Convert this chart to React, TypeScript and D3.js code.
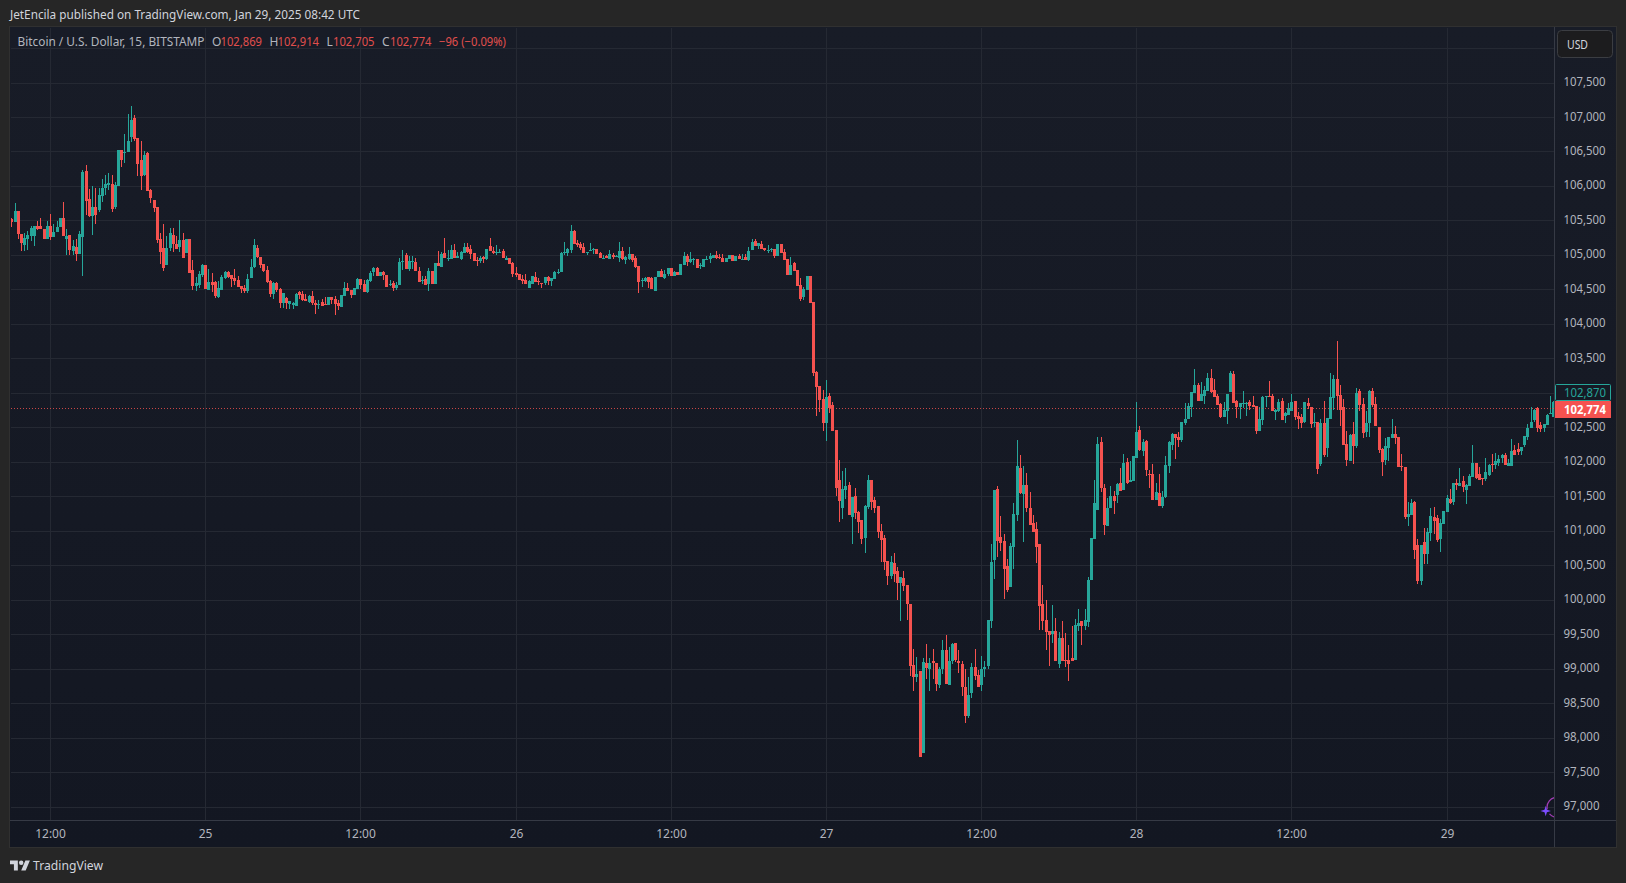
import React from "react";
import * as d3 from "d3";

type Bar = [number, number, number, number]; // open, high, low, close

const barsJan24: Bar[] = [
[105526,105550,105414,105487],[105487,105758,105487,105642],[105642,105642,105236,105308],[105318,105318,105062,105178],[105149,105323,105067,105250],[105236,105356,105076,105294],[105279,105424,105207,105395],[105279,105434,105134,105434],[105434,105501,105366,105390],[105424,105540,105381,105381],
[105390,105390,105236,105236],[105236,105501,105236,105424],[105434,105598,105221,105265],[105265,105453,105265,105337],[105337,105501,105337,105419],[105410,105540,105410,105540],[105540,105772,105279,105279],[105236,105381,105004,105284],[105294,105294,105004,105076],[105062,105221,105004,105134],
[105120,105236,104917,105018],[105018,105352,105018,105308],[105265,106236,104699,106207],[106222,106309,105584,105787],[105816,105961,105559,105569],[105569,106004,105294,105700],[105700,105985,105453,105584],[105656,105985,105627,105874],[105859,106115,105772,105985],[105975,106164,105874,106033],
[106019,106193,105946,106048],[106043,106164,105627,105671],[105700,106062,105671,106019],[106004,106526,106004,106526],[106526,106526,106280,106381],[106483,106758,106338,106497],[106497,107048,106497,106657],[106715,107164,106642,106961],[106990,107034,106657,106686],[106700,106700,106149,106323],
[106381,106657,105946,106149],[106164,106512,106149,106454],[106483,106497,105932,105932],[105946,105961,105758,105830],[105801,105801,105627,105685],[105700,105700,105178,105221],[105236,105323,104873,105047],[105105,105453,104772,104815],[104859,105279,104859,105105],[105105,105395,105062,105323],
[105294,105395,105047,105163],[105163,105279,105091,105091],[105120,105511,105047,105221],[105221,105323,104960,104960],[105033,105236,105033,105236],[105236,105236,104743,104743],[104786,104931,104496,104554],[104554,104685,104482,104598],[104569,104772,104525,104728],[104714,104873,104685,104859],
];
const barsJan25: Bar[] = [
[104859,104859,104511,104511],[104496,104801,104496,104612],[104612,104743,104467,104569],[104612,104627,104380,104409],[104395,104627,104380,104525],[104496,104714,104496,104685],[104670,104772,104656,104757],[104757,104772,104670,104685],[104714,104714,104540,104656],[104670,104801,104569,104627],
[104641,104699,104540,104540],[104554,104554,104453,104511],[104525,104569,104453,104482],[104482,104728,104453,104656],[104670,104946,104670,104830],[104830,105236,104815,105149],[105105,105149,104960,104975],[104975,104975,104815,104859],[104873,104873,104757,104772],[104786,104844,104598,104612],
[104627,104641,104395,104438],[104438,104612,104366,104598],[104598,104612,104467,104496],[104511,104525,104235,104308],[104308,104453,104235,104453],[104380,104395,104221,104308],[104293,104337,104221,104337],[104279,104322,104221,104308],[104264,104453,104264,104438],[104467,104482,104366,104424],
[104438,104482,104337,104351],[104366,104438,104337,104337],[104322,104424,104308,104409],[104409,104482,104279,104308],[104308,104351,104148,104279],[104279,104351,104221,104293],[104322,104366,104264,104264],[104293,104395,104279,104279],[104279,104395,104279,104395],[104395,104395,104293,104351],
[104366,104409,104134,104293],[104308,104351,104206,104264],[104250,104424,104250,104424],[104409,104612,104409,104525],[104525,104598,104482,104482],[104496,104496,104380,104424],[104424,104525,104424,104525],[104511,104670,104511,104656],[104656,104656,104511,104569],[104583,104641,104467,104467],
[104467,104656,104453,104641],[104627,104772,104612,104743],[104757,104830,104699,104815],[104815,104830,104699,104699],[104699,104757,104699,104757],[104757,104772,104641,104714],[104714,104714,104540,104540],[104583,104641,104554,104593],[104598,104627,104482,104525],[104525,104612,104496,104569],
[104569,104960,104569,104902],[104917,105076,104786,104926],[105004,105033,104801,104801],[104801,104989,104772,104917],[104902,104989,104801,104917],[104902,104960,104772,104772],[104772,104830,104612,104612],[104627,104699,104583,104641],[104656,104699,104569,104569],[104583,104815,104482,104772],
[104772,104772,104583,104583],[104583,104888,104583,104888],[104888,105062,104844,104844],[104830,105047,104830,105018],[105033,105250,104960,104960],[104945,105076,104917,104960],[104945,105149,104945,105076],[105076,105163,104960,104960],[104960,105047,104960,104989],[104945,105062,104931,105047],
[105033,105178,105033,105120],[105120,105178,105033,105047],[105091,105149,104945,105018],[105033,105033,104917,104917],[104931,104975,104844,104917],[104917,104989,104888,104960],[104975,104989,104888,104945],[104945,105091,104931,105091],[105134,105250,105062,105062],[105062,105120,105018,105033],
[105033,105149,105004,105047],[105033,105091,105033,105047],[105062,105091,104960,104960],[104931,104989,104931,104960],[104960,104960,104873,104873],[104888,104902,104685,104728],
];
const barsJan26: Bar[] = [
[104743,104830,104685,104714],[104728,104728,104641,104641],[104656,104714,104583,104627],[104641,104728,104583,104583],[104525,104641,104525,104627],[104593,104699,104593,104699],[104685,104757,104612,104612],[104627,104670,104569,104612],[104598,104598,104525,104593],[104598,104685,104569,104685],
[104685,104699,104569,104627],[104627,104670,104554,104670],[104656,104772,104656,104757],[104743,104801,104728,104757],[104757,105047,104757,105033],[105033,105192,105004,105047],[105033,105105,104989,105091],[105076,105438,105033,105352],[105352,105366,105163,105163],[105178,105221,105120,105149],
[105163,105192,105076,105105],[105120,105178,105033,105033],[105033,105047,105004,105047],[105076,105178,105076,105086],[105091,105105,105018,105100],[105091,105091,105018,105018],[105033,105047,104960,104960],[104960,105004,104960,104970],[104989,105004,104960,104970],[104946,105076,104946,105018],
[105004,105033,104946,104979],[104979,105004,104975,104994],[104960,105192,104902,105062],[105062,105120,104931,104946],[104931,104989,104873,104975],[104946,105120,104931,105018],[105018,105018,104902,104931],[104960,104989,104815,104830],[104844,104844,104453,104612],[104627,104670,104540,104641],
[104627,104685,104612,104670],[104685,104685,104525,104612],[104670,104685,104511,104511],[104482,104685,104482,104685],[104685,104772,104685,104772],[104772,104801,104685,104685],[104670,104786,104656,104728],[104728,104815,104699,104815],[104815,104815,104699,104699],[104699,104772,104699,104757],
[104757,104757,104714,104714],[104714,104873,104714,104873],[104859,105047,104859,104989],[104989,105018,104844,104902],[104902,105047,104888,104946],[104931,104960,104859,104946],[104946,104946,104815,104815],[104844,104888,104801,104859],[104830,104946,104830,104946],[104941,104989,104931,104955],
[104946,105033,104888,104989],[104960,105004,104960,105004],[105004,105062,104946,104960],[104975,105018,104946,104960],[104960,105018,104902,104902],[104902,104960,104902,104960],[104946,105004,104946,105004],[105004,105004,104917,104917],[104917,104989,104917,104989],[104989,105018,104946,104946],
[104946,105018,104946,104955],[104975,105018,104931,104931],[104931,105120,104917,105062],[105076,105236,105076,105192],[105207,105236,105134,105134],[105134,105178,105091,105178],[105163,105207,105091,105091],[105105,105105,105062,105076],[105066,105149,105033,105076],[105076,105105,105047,105091],
[105091,105091,104960,104989],[104989,105163,104989,105163],[105163,105163,105033,105033],[105047,105091,104931,104931],[104946,104946,104714,104714],[104714,104975,104714,104859],[104888,104902,104772,104772],[104786,104786,104554,104554],[104569,104670,104337,104366],[104395,104540,104351,104511],
[104496,104699,104496,104699],[104699,104699,104308,104308],[104322,104322,103249,103293],[103307,103322,102669,103090],[103104,103104,102727,102901],[102916,103046,102452,102568],
];
const barsJan27: Bar[] = [
[102568,103191,102311,102945],[102959,103003,102713,102785],[102829,102872,102452,102452],[102466,102466,101509,101625],[101741,102031,101132,101437],[101335,101872,101176,101611],[101596,101915,101466,101654],[101669,101712,101234,101234],[101205,101495,100813,101495],[101509,101625,101176,101263],
[101277,101292,100973,101132],[101161,101161,100813,100886],[100900,101379,100683,101364],[101350,101814,101321,101741],[101741,101741,101306,101422],[101451,101495,101263,101335],[101364,101364,100900,100987],[101002,101103,100552,100871],[100900,100944,100436,100552],[100567,100567,100219,100349],
[100349,100639,100306,100552],[100538,100683,100262,100378],[100422,100480,100001,100248],[100248,100335,99697,100335],[100320,100422,100132,100204],[100219,100219,99711,99943],[99943,99943,98899,99044],[99059,99291,98682,98885],[98885,99175,98812,98928],[98972,98972,97725,97725],
[97783,99160,97783,99102],[99088,99363,98856,99015],[99001,99160,98682,99088],[99117,99291,98856,99088],[99088,99088,98682,98783],[98769,99030,98725,99001],[99001,99421,98928,99276],[99276,99494,98783,98783],[98769,99320,98769,99117],[99117,99378,99073,99363],
[99378,99378,99102,99131],[99117,99276,98943,99088],[99073,99117,98609,98740],[98740,99001,98218,98319],[98319,98885,98290,98624],[98653,99088,98580,99030],[99030,99291,98841,98899],[98914,98986,98740,98740],[98769,99189,98682,99001],[99001,99117,98885,99030],
[99044,99711,99001,99711],[99697,100813,99595,100552],[100581,101596,100306,101596],[101611,101654,100625,100857],[100915,101219,100712,100828],[100857,100958,100016,100451],[100494,100596,100117,100146],[100190,100828,100190,100784],[100770,101408,100451,101248],[101234,102321,101147,101944],
[101915,102104,101538,101553],[101538,101944,100842,101669],[101669,101843,101277,101335],[101335,101567,101089,101089],[101118,101234,100987,100987],[101031,101132,100538,100770],[100813,100813,99566,99914],[99943,100219,99566,99697],[99711,100001,99276,99537],[99552,99552,99044,99494],
[99518,99929,99378,99552],[99552,99740,99117,99117],[99073,99537,99015,99450],[99450,99697,99117,99117],[99131,99523,99030,99117],[99131,99349,98827,99073],[99160,99624,99117,99117],[99131,99726,99131,99639],[99624,99871,99552,99668],[99697,99697,99349,99624],
[99624,99871,99566,99711],[99682,100335,99610,100291],[100291,100900,100291,100900],[100886,101741,100886,101408],[101306,102365,101306,102263],[102292,102365,101567,101625],[101625,101683,100944,101089],[101074,101480,101074,101335],[101335,101654,101335,101509],[101509,101582,101248,101437],
[101524,101698,101408,101683],[101698,101915,101582,101582],[101596,102118,101596,101988],[102002,102060,101683,101698],[101712,102017,101712,101741],[101727,102089,101727,102089],
];
const barsJan28: Bar[] = [
[102060,102872,102060,102437],[102466,102524,102162,102176],[102162,102336,102089,102292],[102307,102321,101799,101886],[101838,101886,101625,101828],[101838,101973,101451,101451],[101451,101698,101451,101567],[101553,101828,101364,101364],[101364,101582,101335,101495],[101495,102089,101480,101959],
[101944,102307,101843,102292],[102249,102423,102176,102408],[102408,102408,102046,102350],[102365,102437,102220,102321],[102321,102582,102292,102582],[102568,102858,102539,102626],[102626,102858,102626,102814],[102800,103017,102655,103017],[103003,103351,103003,103119],[103119,103148,102887,102887],
[102887,103162,102887,102988],[102959,103104,102843,103046],[103032,103293,103032,103220],[103220,103351,103003,103017],[103046,103206,102945,102945],[102959,102988,102829,102829],[102843,102858,102640,102655],[102655,102872,102655,102756],[102742,102988,102553,102988],[103017,103322,103017,103293],
[103278,103322,102858,102858],[102887,102901,102640,102800],[102800,102858,102626,102858],[102843,103032,102785,102858],[102848,102872,102669,102862],[102872,102901,102756,102814],[102829,102959,102800,102800],[102814,102814,102408,102452],[102452,102800,102452,102626],[102611,102959,102539,102945],
[102945,102959,102800,102959],[102959,103177,102945,102945],[102959,102988,102742,102742],[102727,102771,102611,102756],[102742,102916,102727,102872],[102887,102930,102611,102611],[102669,102727,102568,102713],[102684,102858,102684,102785],[102742,102988,102742,102872],[102887,102887,102611,102655],
[102669,102727,102481,102626],[102655,102698,102495,102568],[102582,102872,102568,102872],[102858,102930,102771,102814],[102800,102800,102495,102553],[102572,102713,102510,102582],[102582,102582,101828,101901],[101973,102626,101944,102568],[102568,102887,102075,102104],[102205,102640,102075,102640],
[102626,103293,102626,102945],[102930,103264,102756,103206],[103206,103757,102756,102959],[102974,103119,102524,102756],[102800,102916,102249,102249],[102263,102452,101944,102031],[102017,102408,102017,102394],[102408,102582,101973,102234],[102234,103075,102205,103003],[103032,103061,102742,102829],
[102843,102930,102350,102423],[102437,102742,102365,102568],[102568,103046,102365,103032],[103032,103075,102800,102829],[102843,102945,102524,102524],[102510,102510,102133,102176],[102191,102205,101799,102002],[102031,102350,101959,102234],[102205,102365,102017,102365],[102350,102626,102350,102408],
[102408,102524,102263,102350],[102365,102365,101930,101930],[101944,102118,101872,101930],[101930,101930,101176,101205],[101205,101422,101074,101248],[101234,101466,101234,101408],[101422,101437,100596,100726],[100799,100886,100233,100277],[100277,100799,100219,100799],[100842,101045,100523,100668],
[100668,101045,100523,100987],[100973,101335,100857,101219],[101205,101350,100958,101147],[101190,101234,100842,100871],[100886,101176,100697,101118],[101103,101292,101103,101292],
];
const barsJan29: Bar[] = [
[101277,101524,101277,101480],[101466,101611,101393,101408],[101422,101698,101379,101698],[101698,101756,101596,101669],[101654,101915,101654,101698],[101727,101799,101567,101640],[101596,101683,101393,101669],[101654,101828,101654,101799],[101785,102249,101785,101988],[101988,101988,101756,101770],
[101828,101930,101741,101741],[101770,101770,101669,101756],[101756,102060,101727,101857],[101814,101973,101799,101959],[101973,102118,101857,101959],[101959,102133,101901,102017],[101988,102104,101944,102046],[102060,102118,101988,102104],[102104,102133,101959,101959],[101944,102046,101944,101988],
[101944,102336,101944,102162],[102176,102249,102104,102104],[102191,102278,102104,102147],[102162,102220,102104,102220],[102249,102379,102220,102379],[102365,102553,102321,102495],[102495,102800,102495,102582],[102611,102771,102582,102756],[102785,102800,102437,102495],[102539,102582,102437,102481],
[102495,102553,102437,102553],[102539,102698,102539,102684],[102713,102959,102713,102722],[102655,102887,102655,102872],[102869,102914,102705,102774],
];

const priceTicks = [108000,107500,107000,106500,106000,105500,105000,104500,104000,103500,103000,102500,102000,101500,101000,100500,100000,99500,99000,98500,98000,97500,97000];
const timeTickBars = [12,60,108,156,204,252,300,348,396,444];
const timeTickLabels = ["12:00","25","12:00","26","12:00","27","12:00","28","12:00","29"];
const prevClose = 102870;
const lastClose = 102774;
const legendValues = ["102,869","102,914","102,705","102,774"];
const legendLetters = ["O","H","L","C"];
const legendChange = "−96 (−0.09%)";

const UP = "#26a69a";
const DOWN = "#f5524f";
const FONT = "'Noto Sans', sans-serif";
const W = 1626, H = 883;
const PLOT = { l: 11, t: 28, r: 1554, b: 820 };

export default function App() {
  const bars = [...barsJan24, ...barsJan25, ...barsJan26, ...barsJan27, ...barsJan28, ...barsJan29];
  const x = d3.scaleLinear().domain([0, 252]).range([11.8, 826.4]);
  const y = d3.scaleLinear().domain([97000, 107000]).range([807.2, 117.5]);
  const col = (i: number) => Math.floor(x(i));
  const row = (p: number) => Math.round(y(p));
  const fmt = d3.format(",");
  const lastY = y(lastClose);

  return (
    <svg width={W} height={H} viewBox={`0 0 ${W} ${H}`} style={{ position: "fixed", left: 0, top: 0, display: "block" }} fontFamily={FONT}>
      <defs>
        <linearGradient id="plotBg" x1="0" y1="0" x2="0" y2="1">
          <stop offset="0" stopColor="#181c27" />
          <stop offset="1" stopColor="#131722" />
        </linearGradient>
        <clipPath id="plotClip"><rect x={PLOT.l} y={PLOT.t} width={PLOT.r - PLOT.l} height={PLOT.b - PLOT.t} /></clipPath>
      </defs>
      <rect width={W} height={H} fill="#262626" />
      <rect x={9.5} y={26.5} width={1607} height={821} fill="url(#plotBg)" stroke="#303030" />

      <g shapeRendering="crispEdges">
        {priceTicks.map((p) => (
          <line key={p} x1={PLOT.l} x2={PLOT.r} y1={Math.floor(y(p)) + 0.5} y2={Math.floor(y(p)) + 0.5} stroke="#252933" />
        ))}
        {timeTickBars.map((i) => (
          <line key={i} x1={col(i) + 0.5} x2={col(i) + 0.5} y1={PLOT.t} y2={PLOT.b} stroke="#252933" />
        ))}
        <line x1={10} x2={1616} y1={820.5} y2={820.5} stroke="#363a45" />
        <line x1={1554.5} x2={1554.5} y1={27} y2={847} stroke="#363a45" />
      </g>

      <g clipPath="url(#plotClip)">
        <g shapeRendering="crispEdges">
          {bars.map((b, i) => {
            const [o, h, l, c] = b;
            const color = c >= o ? UP : DOWN;
            const top = row(Math.max(o, c));
            const bot = Math.max(row(Math.min(o, c)), top + 1);
            const cx = col(i);
            return (
              <g key={i} fill={color}>
                <rect x={cx} y={row(h)} width={1} height={Math.max(row(l) - row(h), 1)} />
                <rect x={cx - 1} y={top} width={3} height={bot - top} />
              </g>
            );
          })}
          <line x1={PLOT.l} x2={PLOT.r} y1={Math.floor(lastY) + 0.5} y2={Math.floor(lastY) + 0.5} stroke={DOWN} strokeDasharray="1 2" opacity={0.8} />
        </g>
        <circle cx={1557} cy={807.3} r={10} fill="none" stroke="#a13cb4" strokeWidth={1.3} strokeDasharray="16 5 16 26" strokeDashoffset={-8} />
        <path d="M1545.7 805.8 L1546.9 809.8 L1551 811 L1546.9 812.2 L1545.7 816.2 L1544.5 812.2 L1540.4 811 L1544.5 809.8 Z" fill="#7c4dff" />
      </g>

      <text x={10} y={19} fontSize={12.5} fill="#d1d4dc" textLength={350} lengthAdjust="spacingAndGlyphs">JetEncila published on TradingView.com, Jan 29, 2025 08:42 UTC</text>

      <g fontSize={12} fill="#b2b5be">
        <text x={17.5} y={46} textLength={187} lengthAdjust="spacingAndGlyphs">Bitcoin / U.S. Dollar, 15, BITSTAMP</text>
        {legendLetters.map((t, k) => (
          <text key={t} x={[212, 269.5, 326.5, 382][k]} y={46}>{t}</text>
        ))}
        {legendValues.map((t, k) => (
          <text key={k} x={[220.5, 277.5, 333, 390][k]} y={46} fill="#e04f4d" textLength={41.5} lengthAdjust="spacingAndGlyphs">{t}</text>
        ))}
        <text x={439} y={46} fill="#e04f4d" textLength={67} lengthAdjust="spacingAndGlyphs">{legendChange}</text>
      </g>

      <g fontSize={12} fill="#b2b5be">
        {priceTicks.slice(1).map((p) => (
          <text key={p} x={1563.5} y={y(p) + 3} textLength={p >= 100000 ? 42 : 36} lengthAdjust="spacingAndGlyphs">{fmt(p)}</text>
        ))}
        {timeTickBars.map((i, k) => (
          <text key={i} x={col(i) + 0.5} y={838} textAnchor="middle">{timeTickLabels[k]}</text>
        ))}
      </g>

      <rect x={1557.5} y={30.5} width={55} height={27} rx={4} fill="#1c1c1e" stroke="#3b3d42" />
      <text x={1567} y={49} fontSize={12} fill="#d1d4dc" textLength={21} lengthAdjust="spacingAndGlyphs">USD</text>

      <rect x={1555.5} y={384.5} width={55} height={16} rx={1} fill="#161a25" stroke={UP} />
      <text x={1564} y={397} fontSize={12} fill={UP} textLength={42} lengthAdjust="spacingAndGlyphs">{fmt(prevClose)}</text>
      <rect x={1555} y={401} width={56} height={17} fill={DOWN} />
      <text x={1564} y={414} fontSize={12} fontWeight={700} fill="#ffffff" textLength={42} lengthAdjust="spacingAndGlyphs">{fmt(lastClose)}</text>

      <g transform="translate(10,858.2) scale(0.56)" fill="#d1d4dc">
        <path d="M14 22H7V11H0V4h14v18zM28 22h-8l7.5-18h8L28 22z" />
        <circle cx={20} cy={8} r={4} />
      </g>
      <text x={33} y={870} fontSize={13} fill="#d1d4dc" textLength={70} lengthAdjust="spacingAndGlyphs">TradingView</text>
    </svg>
  );
}
